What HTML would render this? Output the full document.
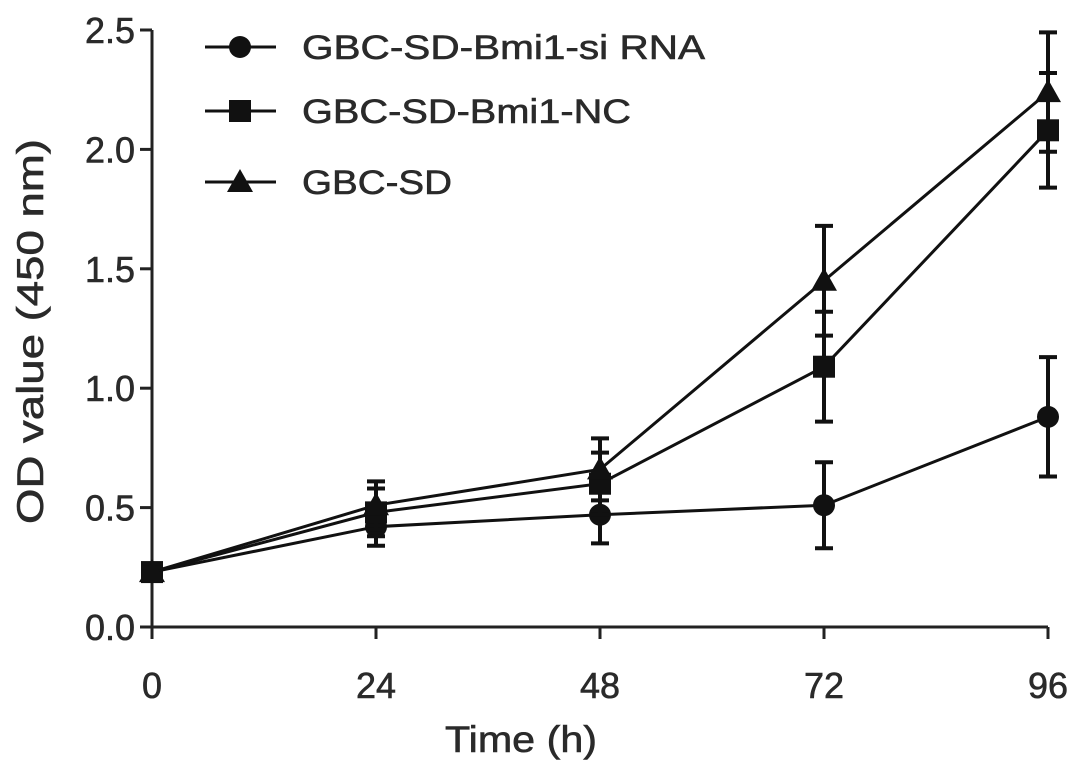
<!DOCTYPE html>
<html><head><meta charset="utf-8"><style>
html,body{margin:0;padding:0;background:#fff;}
svg text{font-family:"Liberation Sans",Arial,sans-serif;fill:#2a2a2a;stroke:#2a2a2a;stroke-width:0.6px;}
</style></head><body>
<svg id="chart" width="1087" height="774" xmlns="http://www.w3.org/2000/svg">
<g id="axes"></g><g id="series"></g><g id="legend"></g>
</svg>
<script>
const timePoints=[0,24,48,72,96];
const xTicks=[0,24,48,72,96];
const yTicks=[0,0.5,1,1.5,2,2.5];
const seriesNames=["GBC-SD-Bmi1-si RNA","GBC-SD-Bmi1-NC","GBC-SD"];
const siMeans=[0.23,0.42,0.47,0.51,0.88];
const siErr=[0.02,0.08,0.12,0.18,0.25];
const ncMeans=[0.23,0.48,0.60,1.09,2.08];
const ncErr=[0.02,0.10,0.13,0.23,0.24];
const sdMeans=[0.23,0.51,0.66,1.45,2.24];
const sdErr=[0.02,0.10,0.13,0.23,0.25];

const NS="http://www.w3.org/2000/svg";
const X0=152,X1=1048,Y0=627,Y1=30;
const xs=v=>X0+(v-0)/96*(X1-X0);
const ys=v=>Y0-(v/2.5)*(Y0-Y1);
function mk(tag,attrs,parent){const e=document.createElementNS(NS,tag);for(const k in attrs)e.setAttribute(k,attrs[k]);parent.appendChild(e);return e;}
const axes=document.getElementById('axes'),ser=document.getElementById('series'),leg=document.getElementById('legend');
function tw(s){let w=0;for(const c of s)w+=(c==='.'?10:20);return w;}

let a=mk('line',{x1:X0,y1:Y0,x2:X1,y2:Y0,stroke:'#222','stroke-width':3},axes);


a=mk('line',{x1:X0,y1:Y0,x2:X0,y2:Y1,stroke:'#222','stroke-width':3},axes);


xTicks.forEach(t=>{
  const l=mk('line',{x1:xs(t),y1:Y0,x2:xs(t),y2:Y0+12,stroke:'#222','stroke-width':3},axes);
  
  
  const s=String(t);
  const tx=mk('text',{x:xs(t),y:698,'text-anchor':'middle','font-size':36,textLength:tw(s),lengthAdjust:'spacingAndGlyphs'},axes);tx.textContent=s;
  
  
});
yTicks.forEach(t=>{
  const l=mk('line',{x1:X0-12,y1:ys(t),x2:X0,y2:ys(t),stroke:'#222','stroke-width':3},axes);
  
  
  const s=t.toFixed(1);
  const tx=mk('text',{x:135,y:ys(t)+13,'text-anchor':'end','font-size':36,textLength:tw(s),lengthAdjust:'spacingAndGlyphs'},axes);tx.textContent=s;
  
  
});
let tt=mk('text',{x:445,y:752,'font-size':37,textLength:152,lengthAdjust:'spacingAndGlyphs'},axes);tt.textContent='Time (h)';


tt=mk('text',{x:0,y:0,'font-size':37,textLength:385,lengthAdjust:'spacingAndGlyphs',transform:'translate(43,524) rotate(-90)'},axes);tt.textContent='OD value (450 nm)';



function marker(kind,x,y,p){
  let m;
  if(kind==='circle')m=mk('circle',{cx:x,cy:y,r:11,fill:'#111'},p);
  else if(kind==='square')m=mk('rect',{x:x-11,y:y-11,width:22,height:22,fill:'#111'},p);
  else m=mk('polygon',{points:`${x},${y-13} ${x+13},${y+10} ${x-13},${y+10}`,fill:'#111'},p);
  return m;
}
const all=[[siMeans,siErr,'circle','si-rna'],[ncMeans,ncErr,'square','nc'],[sdMeans,sdErr,'triangle','gbc-sd']];
all.forEach(([m,e,kind,nm])=>{
  const g=mk('g',{},ser);
  
  
  const pl=mk('polyline',{points:timePoints.map((t,i)=>xs(t)+','+ys(m[i])).join(' '),fill:'none',stroke:'#111','stroke-width':3},g);
  
  
  timePoints.forEach((t,i)=>{
    const x=xs(t),hi=ys(m[i]+e[i]),lo=ys(m[i]-e[i]);
    const eb=mk('path',{d:`M${x},${hi}V${lo}M${x-9},${hi}H${x+9}M${x-9},${lo}H${x+9}`,stroke:'#111','stroke-width':4,fill:'none'},g);
    
    
    const mm=marker(kind,x,ys(m[i]),g);
    
    
  });
});
const legY=[47,111,182],kinds=['circle','square','triangle'],legLen=[403,329,150];
seriesNames.forEach((n,i)=>{
  const g=mk('g',{},leg);
  
  
  mk('line',{x1:205,y1:legY[i],x2:276,y2:legY[i],stroke:'#111','stroke-width':3},g);
  marker(kinds[i],240,legY[i],g);
  const t=mk('text',{x:302,y:legY[i]+12,'font-size':34,textLength:legLen[i],lengthAdjust:'spacingAndGlyphs'},g);t.textContent=n;
});
</script>
</body></html>
